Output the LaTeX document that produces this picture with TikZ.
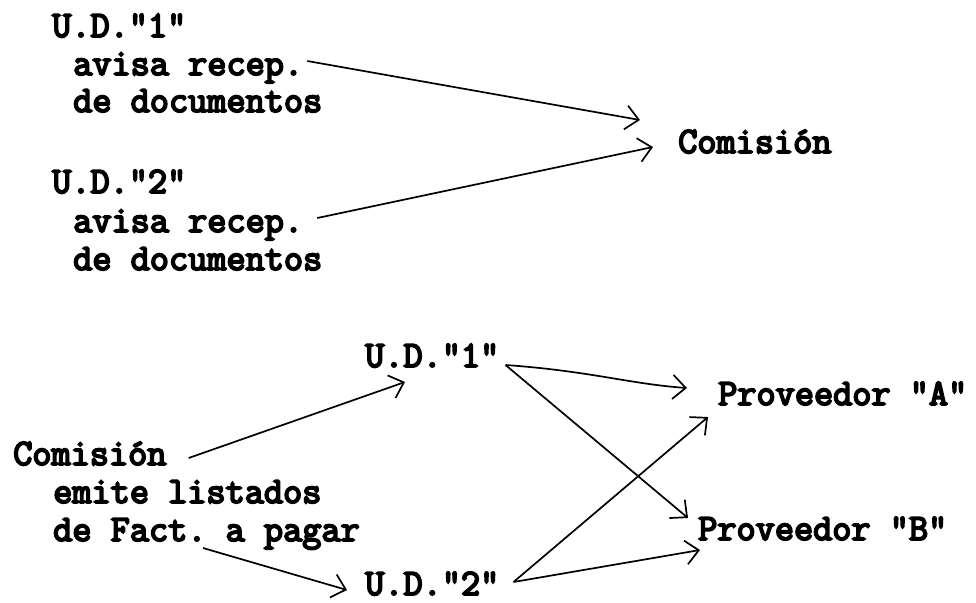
\documentclass[tikz,border=0pt]{standalone}
\usepackage{fontspec}
\setmonofont{Latin Modern Mono}[BoldFont={Latin Modern Mono}, BoldFeatures={FakeBold=5}]
\usetikzlibrary{arrows.meta}
\tikzset{
  txt/.style={anchor=base west, inner sep=0pt, font=\ttfamily\bfseries\fontsize{37.2}{38}\selectfont},
  arr/.style={line width=1.7pt, -{Straight Barb[length=13pt,width=24pt,line width=1.7pt]}}
}
\frenchspacing
\begin{document}
\begin{tikzpicture}[x=1pt,y=-1pt]
\useasboundingbox (0,0) rectangle (976,602);
% top block
\node[txt] (ud1) at (52,37) {U.D."1"};
\node[txt] (av1) at (73,75) {avisa recep.};
\node[txt] (dd1) at (73,112) {de documentos};
\node[txt] (ud2) at (52,193) {U.D."2"};
\node[txt] (av2) at (73,232) {avisa recep.};
\node[txt] (dd2) at (73,270) {de documentos};
\node[txt] (comA) at (678,153) {Comisión};
% bottom block
\node[txt] (comB) at (13,465) {Comisión};
\node[txt] (em) at (53,503) {emite listados};
\node[txt] (fa) at (53,541) {de Fact.\ a pagar};
\node[txt] (u1) at (365,367) {U.D."1"};
\node[txt] (u2) at (365,595) {U.D."2"};
\node[txt] (pa) at (718,405) {Proveedor "A"};
\node[txt] (pb) at (698,540) {Proveedor "B"};
% connectors
\draw[arr] ([shift={(4,-14)}]av1.base east) -- ([shift={(-38,-33)}]comA.base west);
\draw[arr] ([shift={(14,-14)}]av2.base east) -- ([shift={(-25,-6)}]comA.base west);
\draw[arr] ([shift={(22,-7)}]comB.base east) -- ([shift={(40,15)}]u1.base west);
\draw[arr] ([shift={(150,7)}]fa.base west) -- ([shift={(-18,-5)}]u2.base west);
\draw[arr] ([shift={(6,-2)}]u1.base east) .. controls (590,371) and (630,384) .. ([shift={(-31,-17)}]pa.base west);
\draw[arr] ([shift={(6,-2)}]u1.base east) -- ([shift={(-10,-22)}]pb.base west);
\draw[arr] ([shift={(14,-13)}]u2.base east) -- ([shift={(-10,12)}]pa.base west);
\draw[arr] ([shift={(14,-13)}]u2.base east) -- ([shift={(2,10)}]pb.base west);
\end{tikzpicture}
\end{document}
